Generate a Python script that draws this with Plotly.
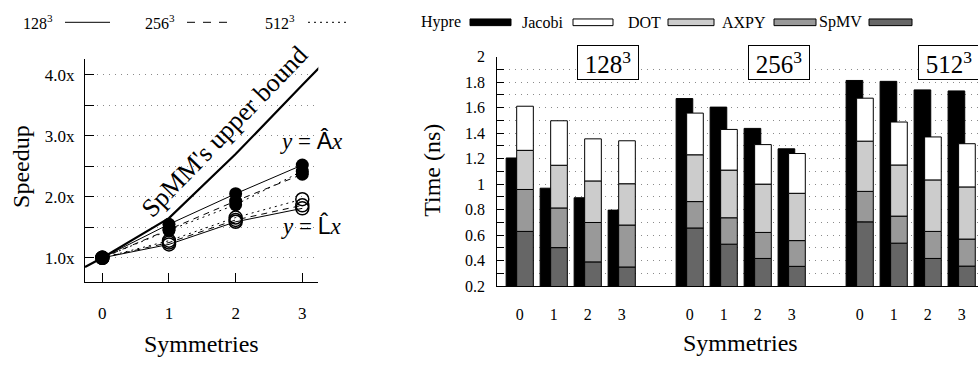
import plotly.graph_objects as go

W, H = 978, 365
FONT = "Liberation Serif"

# ---------------- data: left panel (speedup) ----------------
symmetries = [0, 1, 2, 3]
speedup_A_128 = [1.0, 1.55, 2.05, 2.52]
speedup_A_256 = [1.0, 1.47, 1.93, 2.37]
speedup_A_512 = [1.0, 1.45, 1.87, 2.42]
speedup_L_128 = [1.0, 1.22, 1.59, 1.81]
speedup_L_256 = [1.0, 1.25, 1.62, 1.86]
speedup_L_512 = [1.0, 1.28, 1.66, 1.96]
upper_x = [-0.26, 0, 1, 2, 3, 3.26]
upper_y = [0.85, 1.0, 1.65, 2.70, 3.83, 4.12]

# ---------------- data: right panel (time per kernel) ----------------
grid_sizes = ["128", "256", "512"]
hypre = [1.205, 0.968, 0.893, 0.796, 1.671, 1.604, 1.437, 1.277, 1.813, 1.806, 1.739, 1.731]
spmv = [0.629, 0.502, 0.390, 0.350, 0.656, 0.529, 0.417, 0.355, 0.704, 0.537, 0.417, 0.357]
axpy = [0.329, 0.311, 0.309, 0.329, 0.207, 0.207, 0.204, 0.202, 0.239, 0.212, 0.212, 0.212]
dot = [0.307, 0.335, 0.326, 0.324, 0.367, 0.374, 0.379, 0.371, 0.394, 0.401, 0.404, 0.409]
jacobi = [0.346, 0.349, 0.330, 0.337, 0.327, 0.319, 0.310, 0.312, 0.337, 0.337, 0.337, 0.339]


def px(x):
    return x / W


def py(y):
    return 1 - y / H


fig = go.Figure()

# ---------------- left panel ----------------
fig.add_trace(go.Scatter(x=upper_x, y=upper_y, mode="lines",
                         line=dict(color="black", width=2.2), xaxis="x", yaxis="y",
                         showlegend=False, hoverinfo="skip"))
dashes = {"128": "solid", "256": "6px,5px", "512": "2px,4px"}
for size, a_vals, l_vals in [("128", speedup_A_128, speedup_L_128),
                             ("256", speedup_A_256, speedup_L_256),
                             ("512", speedup_A_512, speedup_L_512)]:
    fig.add_trace(go.Scatter(x=symmetries, y=l_vals, mode="lines+markers",
                             line=dict(color="black", width=1, dash=dashes[size]),
                             marker=dict(symbol="circle-open", size=13, color="black",
                                         line=dict(width=1.5, color="black")),
                             xaxis="x", yaxis="y", showlegend=False))
    fig.add_trace(go.Scatter(x=symmetries, y=a_vals, mode="lines+markers",
                             line=dict(color="black", width=1, dash=dashes[size]),
                             marker=dict(symbol="circle", size=13, color="black"),
                             xaxis="x", yaxis="y", showlegend=False))

# ---------------- right panel ----------------
slots = [g * 5 + s for g in range(len(grid_sizes)) for s in symmetries]
fig.add_trace(go.Bar(x=slots, y=hypre, offset=-0.40, width=0.49,
                     marker=dict(color="black", line=dict(color="black", width=1)),
                     xaxis="x2", yaxis="y2", showlegend=False))
base = [0.0] * len(slots)
for vals, col in [(spmv, "#666666"), (axpy, "#999999"), (dot, "#cccccc"), (jacobi, "#ffffff")]:
    fig.add_trace(go.Bar(x=slots, y=vals, base=list(base), offset=-0.09, width=0.49,
                         marker=dict(color=col, line=dict(color="black", width=1)),
                         xaxis="x2", yaxis="y2", showlegend=False))
    base = [b + v for b, v in zip(base, vals)]

ticktext = [str(s) for g in grid_sizes for s in symmetries]

grid_common = dict(showgrid=True, gridcolor="#8a8a8a", griddash="1px,5px", gridwidth=1)

fig.update_layout(
    width=W, height=H, margin=dict(l=0, r=0, t=0, b=0),
    paper_bgcolor="white", plot_bgcolor="white",
    barmode="overlay", font=dict(family=FONT, color="black"),
    xaxis=dict(domain=[px(85), px(318.3)], range=[-0.26, 3.24], tickvals=symmetries,
               anchor="y",
               showline=True, linecolor="black", linewidth=1, ticks="inside", ticklen=9,
               tickcolor="black", showgrid=False, zeroline=False,
               tickfont=dict(family=FONT, size=17), ticklabelstandoff=16),
    yaxis=dict(domain=[py(287.3), py(53.3)], range=[0.605, 4.26], tick0=1, dtick=1,
               anchor="x",
               tickformat=".1f", ticksuffix="x", showline=True, linecolor="black", linewidth=1,
               ticks="inside", ticklen=9, tickcolor="black", zeroline=False,
               tickfont=dict(family=FONT, size=17), ticklabelstandoff=6,
               minor=dict(tick0=0.5, dtick=0.5, ticks="inside", ticklen=9, tickcolor="black",
                          **grid_common),
               **grid_common),
    xaxis2=dict(domain=[px(497.3), 1.0], range=[-0.66, 13.48], tickvals=slots, ticktext=ticktext,
                anchor="y2",
                showline=True, linecolor="black", linewidth=1, ticks="", showgrid=False,
                zeroline=False, tickfont=dict(family=FONT, size=16), ticklabelstandoff=14),
    yaxis2=dict(domain=[py(291.7), py(51)], range=[0.2, 2.0], dtick=0.2, tick0=0,
                anchor="x2",
                showline=True, linecolor="black", linewidth=1, ticks="inside", ticklen=7,
                tickcolor="black", zeroline=False, tickfont=dict(family=FONT, size=16),
                ticklabelstandoff=8,
                minor=dict(dtick=0.1, ticks="inside", ticklen=7, tickcolor="black", **grid_common),
                **grid_common),
)

ann = []
shapes = []
# axis titles
ann.append(dict(text="Speedup", x=px(21.7), y=py(166), textangle=-90, font=dict(size=24)))
ann.append(dict(text="Time (ns)", x=px(431.7), y=py(170), textangle=-90, font=dict(size=24)))
ann.append(dict(text="Symmetries", x=px(201.7), y=py(352), font=dict(size=24)))
ann.append(dict(text="Symmetries", x=px(740), y=py(351), font=dict(size=24)))

# left in-plot labels
ann.append(dict(text="SpMM's upper bound", x=px(225), y=py(130), textangle=-46,
                font=dict(size=26)))
ann.append(dict(text="<i>y</i> = <span style='font-family:Liberation Sans'>Â</span><i>x</i>",
                x=px(311), y=py(139), font=dict(size=23)))
ann.append(dict(text="<i>y</i> = <span style='font-family:Liberation Sans'>L̂</span><i>x</i>",
                x=px(311), y=py(228), font=dict(size=23)))

# left legend
for label, xr, x0, x1, dsh in [("128", 55, 65, 110, "solid"), ("256", 177, 187, 228, "8px,8px"),
                               ("512", 297, 308, 350, "2px,4px")]:
    ann.append(dict(text=label + "<sup>3</sup>", x=px(xr), y=py(15), xanchor="right",
                    font=dict(size=16)))
    shapes.append(dict(type="line", xref="paper", yref="paper", x0=px(x0), x1=px(x1),
                       y0=py(15), y1=py(15), line=dict(color="black", width=1, dash=dsh)))

# right legend
for label, xr, x0, x1, col in [("Hypre", 463, 470, 511, "black"), ("Jacobi", 565, 573, 613, "#ffffff"),
                               ("DOT", 663, 668, 714, "#cccccc"), ("AXPY", 768, 774, 816, "#999999"),
                               ("SpMV", 864, 869, 912, "#666666")]:
    ann.append(dict(text=label, x=px(xr), y=py(15), xanchor="right", font=dict(size=16)))
    shapes.append(dict(type="rect", xref="paper", yref="paper", x0=px(x0), x1=px(x1),
                       y0=py(18.5), y1=py(11.5), fillcolor=col, line=dict(color="black", width=1)))

# size boxes
for size, xc in zip(grid_sizes, [608, 778.5, 948.5]):
    ann.append(dict(text=size + "<sup>3</sup>", x=px(xc), y=py(57.5), font=dict(size=25),
                    bordercolor="black", borderwidth=1, bgcolor="white", borderpad=0,
                    width=60, height=33))

for a in ann:
    a.setdefault("xref", "paper")
    a.setdefault("yref", "paper")
    a.setdefault("showarrow", False)
    a.setdefault("xanchor", "center")
    a.setdefault("yanchor", "middle")
    a["font"] = dict(family=FONT, color="black", **a["font"])
fig.update_layout(annotations=ann, shapes=shapes)

fig.write_html("out.html")
